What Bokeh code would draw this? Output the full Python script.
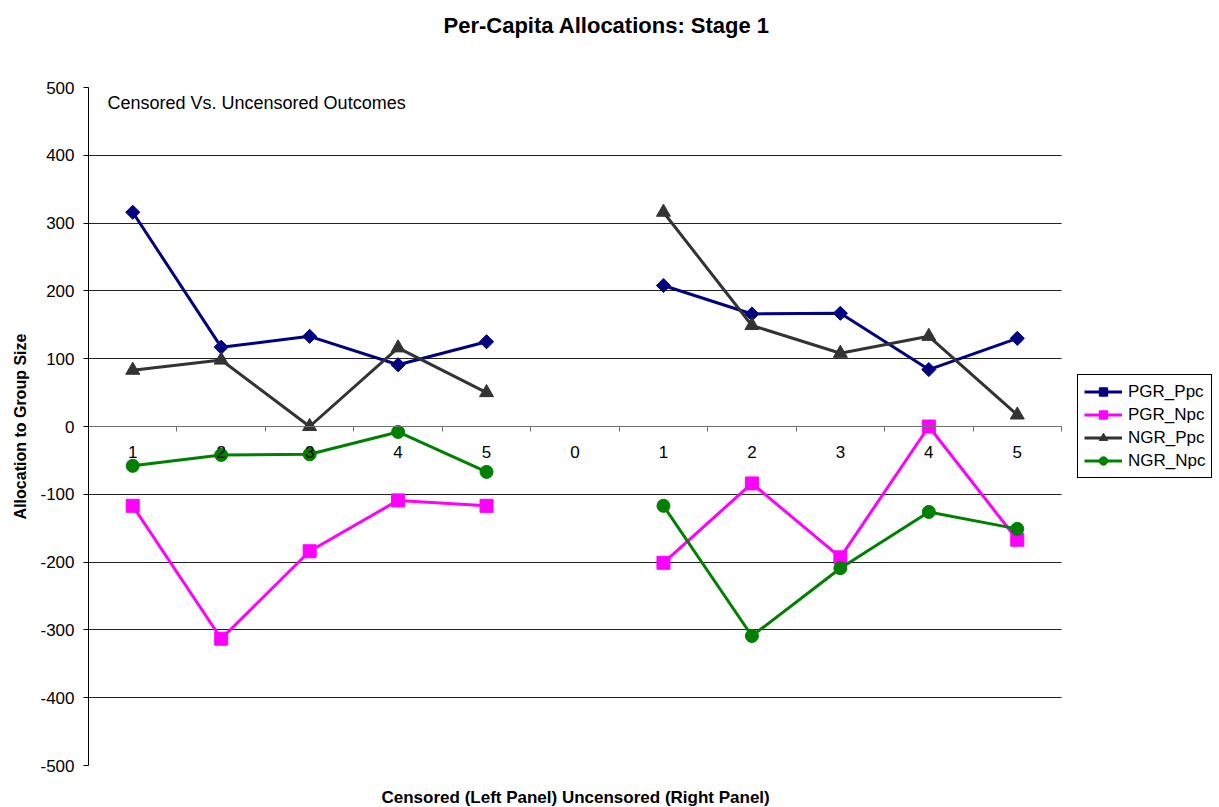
import math
from bokeh.plotting import figure
from bokeh.models import (LinearAxis, FixedTicker, Range1d, Legend, LegendItem,
                          Title, Label, ColumnDataSource, Grid)
from bokeh.embed import file_html
from bokeh.resources import INLINE

nan = float("nan")
categories = ["1", "2", "3", "4", "5", "0", "1", "2", "3", "4", "5"]
pgr_ppc = [316, 117, 133, 91, 125, nan, 208, 166, 167, 84, 130]
pgr_npc = [-117, -313, -184, -109, -117, nan, -201, -84, -193, 0, -167]
ngr_ppc = [83, 98, 0, 116, 50, nan, 316, 149, 108, 133, 17]
ngr_npc = [-58, -42, -41, -8, -67, nan, -117, -309, -209, -126, -151]
y_ticks = [-500, -400, -300, -200, -100, 0, 100, 200, 300, 400, 500]
y_tick_labels = ["-500", "-400", "-300", "-200", "-100", "0", "100", "200", "300", "400", "500"]

FONT = "Liberation Sans"
n = len(categories)
xs = [i + 0.5 for i in range(n)]

# plot area of the chart is 973 px wide; the frame is extended to the right so that
# the legend (drawn inside the frame) is not clipped
PLOT_W = 973
FRAME_W = 1127
p = figure(frame_width=FRAME_W, frame_height=678, output_backend="svg", toolbar_location=None,
           x_range=Range1d(0, n * FRAME_W / PLOT_W), y_range=Range1d(-500, 500),
           x_axis_type=None, y_axis_type=None,
           min_border_left=88, min_border_right=0, min_border_top=87,
           min_border_bottom=36)
p.outline_line_color = None
p.background_fill_color = "white"
p.border_fill_color = "white"

# y axis
yaxis = LinearAxis(ticker=FixedTicker(ticks=y_ticks))
yaxis.major_label_overrides = {t: s for t, s in zip(y_ticks, y_tick_labels)}
yaxis.axis_label = "Allocation to Group Size"
yaxis.axis_label_text_font = FONT
yaxis.axis_label_text_font_style = "bold"
yaxis.axis_label_text_font_size = "16px"
yaxis.axis_label_text_color = "black"
yaxis.axis_label_standoff = 8
yaxis.major_label_text_font = FONT
yaxis.major_label_text_font_size = "17px"
yaxis.major_label_text_color = "black"
yaxis.major_label_standoff = 9
yaxis.axis_line_color = "black"
yaxis.major_tick_line_color = "black"
yaxis.major_tick_out = 5
yaxis.major_tick_in = 0
yaxis.minor_tick_out = 0
yaxis.minor_tick_in = 0
p.add_layout(yaxis, "left")

# x axis crossing at zero
xaxis = LinearAxis(ticker=FixedTicker(ticks=xs, minor_ticks=list(range(n + 1))),
                   fixed_location=0, bounds=(0, n))
xaxis.major_label_overrides = {x: c for x, c in zip(xs, categories)}
xaxis.major_label_text_font = FONT
xaxis.major_label_text_font_size = "17px"
xaxis.major_label_text_color = "black"
xaxis.major_label_standoff = 14
xaxis.axis_line_color = "#707070"
xaxis.major_tick_out = 0
xaxis.major_tick_in = 0
xaxis.minor_tick_out = 5
xaxis.minor_tick_in = 0
xaxis.minor_tick_line_color = "#707070"
p.add_layout(xaxis, "below")

grid = Grid(dimension=1, ticker=FixedTicker(ticks=y_ticks), grid_line_color="#222222",
            grid_line_width=1, cross_bounds=(0, n))
p.add_layout(grid)

src = ColumnDataSource(dict(x=xs, pgr_ppc=pgr_ppc, pgr_npc=pgr_npc,
                            ngr_ppc=ngr_ppc, ngr_npc=ngr_npc))

series = [
    ("PGR_Ppc", "pgr_ppc", "#000080", "square", 10, math.pi / 4),
    ("PGR_Npc", "pgr_npc", "#FF00FF", "square", 13, 0),
    ("NGR_Ppc", "ngr_ppc", "#333333", "triangle", 14, 0),
    ("NGR_Npc", "ngr_npc", "#008000", "circle", 13, 0),
]
items = []
for name, col, color, marker, size, angle in series:
    ln = p.line("x", col, source=src, line_color=color, line_width=3)
    sc = p.scatter("x", col, source=src, marker=marker, size=size, angle=angle,
                   fill_color=color, line_color=color)
    items.append(LegendItem(label=name, renderers=[ln, sc]))

legend = Legend(items=items, location=(989, 287), margin=0, padding=6,
                spacing=2, glyph_width=38, glyph_height=21, label_height=21,
                label_standoff=6, label_text_font=FONT, label_text_font_size="17px",
                label_text_color="black",
                border_line_color="black", border_line_width=1, border_line_alpha=1,
                background_fill_color="white", background_fill_alpha=1)
p.add_layout(legend, "center")

ann = Label(x=0, y=500, x_offset=19, y_offset=-15, text="Censored Vs. Uncensored Outcomes",
            text_font=FONT, text_font_size="18px", text_baseline="middle",
            text_color="black")
p.add_layout(ann)

# spacer below the plot, then the x-axis title
p.add_layout(Title(text=" ", text_font_size="3px"), "below")
xt = Title(text="Censored (Left Panel)  Uncensored (Right Panel)", align="left", offset=293,
           text_font=FONT, text_font_style="bold", text_font_size="17px", text_color="black")
p.add_layout(xt, "below")

# main title (outermost), spacer title directly above the plot
p.title.text = "Per-Capita Allocations: Stage 1"
p.title.align = "left"
p.title.offset = 355
p.title.text_font = FONT
p.title.text_font_style = "bold"
p.title.text_font_size = "22px"
p.title.text_color = "black"
p.add_layout(Title(text=" ", text_font_size="30px"), "above")

open("out.html", "w").write(file_html(p, INLINE))
